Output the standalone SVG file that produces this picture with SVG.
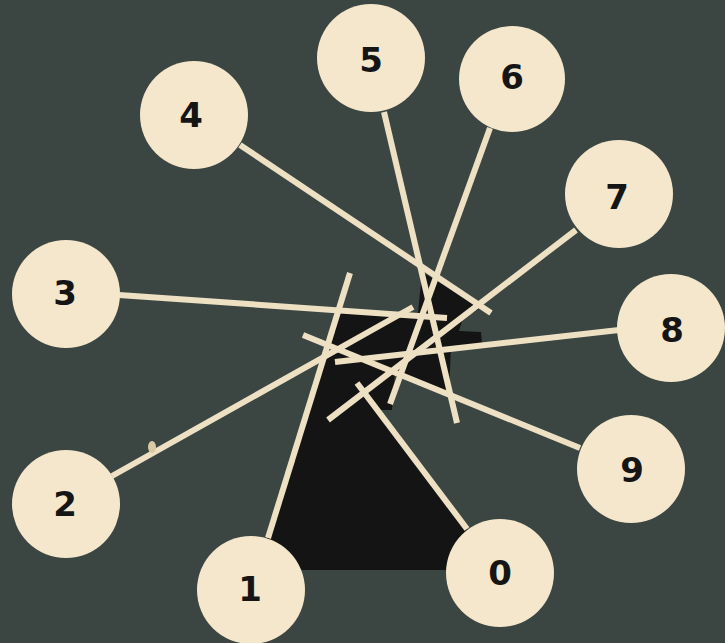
<svg xmlns="http://www.w3.org/2000/svg" width="725" height="643" viewBox="0 0 725 643">
<style>
.node circle{fill:#f4e7cc}
.node text{font-family:"DejaVu Sans","Liberation Sans",sans-serif;font-weight:bold;font-size:34px;fill:#151515;text-anchor:middle}
.stick{stroke:#eee0c3;stroke-width:6;stroke-linecap:butt;fill:none}
</style>
<rect x="0" y="0" width="725" height="643" fill="#3b4642"/>
<polygon id="shadow" fill="#141414" points="337,313 418,313 422,272 481,308 463,318 459,331 481,332 482,344 451,346 449,394 395,372 392,410 377,410 498,570 258,570"/>
<g id="connectors">
<line class="stick" x1="240" y1="145" x2="491" y2="313"/>
<line class="stick" x1="119" y1="295" x2="447" y2="318"/>
<line class="stick" x1="384" y1="112" x2="457" y2="423"/>
<line class="stick" x1="490" y1="128" x2="390" y2="404"/>
<line class="stick" x1="576" y1="230" x2="328" y2="420"/>
<line class="stick" x1="619" y1="330" x2="335" y2="362"/>
<line class="stick" x1="580" y1="448" x2="303" y2="335"/>
<line class="stick" x1="112" y1="476" x2="413" y2="307"/>
<line class="stick" x1="268" y1="538" x2="350" y2="273"/>
<line class="stick" x1="467" y1="529" x2="357" y2="383"/>
<ellipse cx="152" cy="447" rx="4" ry="6" fill="#d9caa6"/>
</g>
<g id="n0" class="node"><circle cx="500" cy="573" r="54"/><text x="500" y="585">0</text></g>
<g id="n1" class="node"><circle cx="251" cy="590" r="54"/><text x="250" y="601">1</text></g>
<g id="n2" class="node"><circle cx="66" cy="504" r="54"/><text x="65" y="516">2</text></g>
<g id="n3" class="node"><circle cx="66" cy="294" r="54"/><text x="65" y="305">3</text></g>
<g id="n4" class="node"><circle cx="194" cy="115" r="54"/><text x="191" y="127">4</text></g>
<g id="n5" class="node"><circle cx="371" cy="58" r="54"/><text x="371" y="72">5</text></g>
<g id="n6" class="node"><circle cx="512" cy="79" r="53"/><text x="512" y="89">6</text></g>
<g id="n7" class="node"><circle cx="619" cy="194" r="54"/><text x="617" y="209">7</text></g>
<g id="n8" class="node"><circle cx="671" cy="328" r="54"/><text x="672" y="342">8</text></g>
<g id="n9" class="node"><circle cx="631" cy="469" r="54"/><text x="632" y="482">9</text></g>
</svg>
